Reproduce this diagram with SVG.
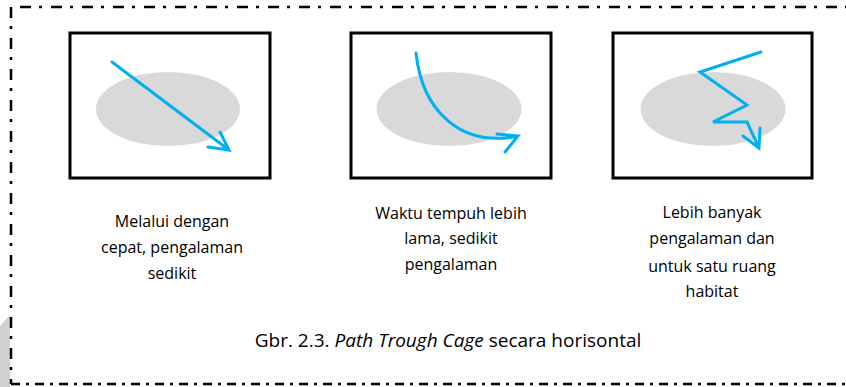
<svg xmlns="http://www.w3.org/2000/svg" width="846" height="387" viewBox="0 0 846 387">
<style>
.frame{fill:none;stroke:#000;stroke-width:2.5;stroke-dasharray:11 8 3 9}
.box{fill:#fff;stroke:#000;stroke-width:3}
.blob{fill:#d9d9d9}
.path{fill:none;stroke:#00b0f0;stroke-width:3;stroke-linecap:round;stroke-linejoin:miter}
.lbl{font-family:"Open Sans",Lato,"Liberation Sans",sans-serif;font-size:16px;fill:#000;text-anchor:middle}
.cap{font-family:"Open Sans",Lato,"Liberation Sans",sans-serif;font-size:19px;fill:#000;text-anchor:middle}
</style>
<rect width="846" height="387" fill="#fff"/>
<polygon points="0,326 10,315 10,387 0,387" fill="#d0d0d0"/>
<g id="frame">
<line class="frame" x1="20" y1="7" x2="846" y2="7"/>
<line class="frame" x1="11" y1="7" x2="11" y2="384"/>
<line class="frame" x1="11" y1="384" x2="846" y2="384" style="stroke-dasharray:9 6 3 6"/>
</g>
<g id="node1">
<rect class="box" x="70" y="33" width="200" height="145"/>
<ellipse class="blob" cx="168" cy="109" rx="72" ry="37"/>
<path class="path" d="M112,62 L229,150 M220,132 L229,150 L208,147"/>
<text class="lbl" x="172" y="227">Melalui dengan</text>
<text class="lbl" x="172" y="253">cepat, pengalaman</text>
<text class="lbl" x="172" y="279">sedikit</text>
</g>
<g id="node2">
<rect class="box" x="351" y="33" width="200" height="145"/>
<ellipse class="blob" cx="449" cy="109" rx="72.5" ry="37"/>
<path class="path" d="M416,53 C422,110 460,148 518,136 M497,134 L518,136 L505,152"/>
<text class="lbl" x="451" y="219">Waktu tempuh lebih</text>
<text class="lbl" x="451" y="244">lama, sedikit</text>
<text class="lbl" x="451" y="270">pengalaman</text>
</g>
<g id="node3">
<rect class="box" x="613" y="33" width="199" height="145"/>
<ellipse class="blob" cx="713" cy="109" rx="72.5" ry="37"/>
<path class="path" d="M761,52 L700,72 L747,105 L713,122 L747,122 L759,148 M760,128 L759,148 L743,136"/>
<text class="lbl" x="712" y="218">Lebih banyak</text>
<text class="lbl" x="712" y="244">pengalaman dan</text>
<text class="lbl" x="712" y="272">untuk satu ruang</text>
<text class="lbl" x="712" y="297">habitat</text>
</g>
<g id="caption">
<text class="cap" x="448" y="347">Gbr. 2.3. <tspan font-style="italic">Path Trough Cage</tspan> secara horisontal</text>
</g>
</svg>
